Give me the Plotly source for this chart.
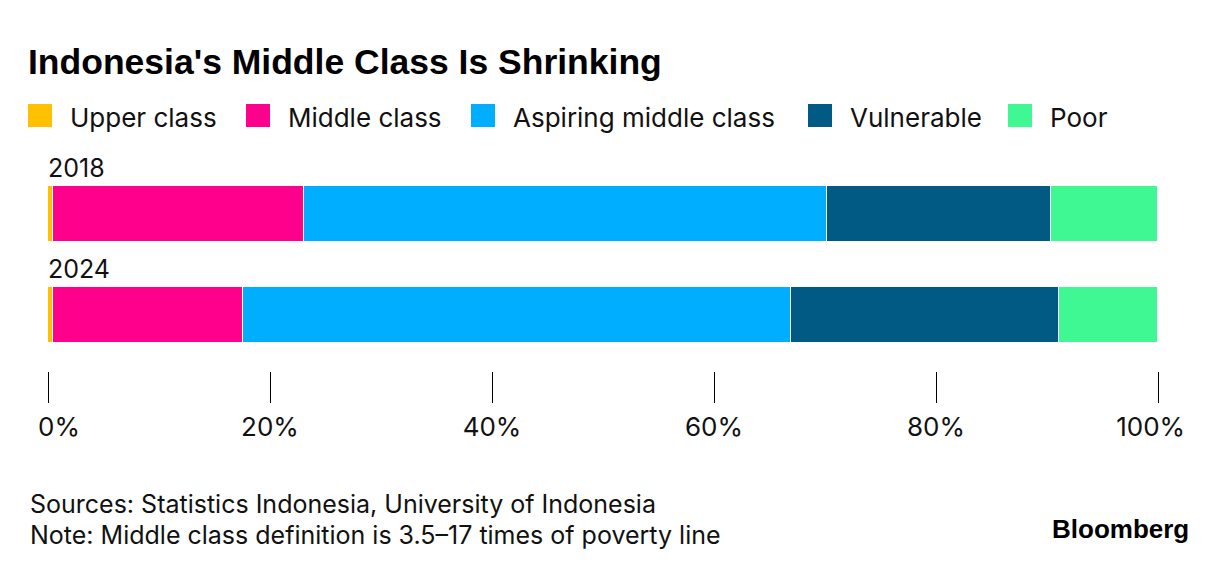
import plotly.graph_objects as go

# ---- data ----
years = ["2018", "2024"]
series_names = ["Upper class", "Middle class", "Aspiring middle class", "Vulnerable", "Poor"]
series_colors = ["#FFC000", "#FF008C", "#00AEFF", "#005A84", "#40F893"]
upper = [0.45, 0.45]
middle = [22.6, 17.1]
aspiring = [47.1, 49.4]
vulnerable = [20.2, 24.1]
poor = [9.65, 8.95]
tick_vals = [0, 20, 40, 60, 80, 100]
tick_text = ["\u00a0\u00a0\u00a00%", "20%", "40%", "60%", "80%", "100%\u00a0\u00a0"]

values = [upper, middle, aspiring, vulnerable, poor]

W, H = 1231, 574
L, R, T, B = 48, 1158, 186, 371  # plot area in px

def pxx(x):
    return (x - L) / (R - L)

def pxy(y):
    return (B - y) / (B - T)

FONT = "Inter"
BAR_W = 0.554

fig = go.Figure()
for name, col, vals in zip(series_names, series_colors, values):
    fig.add_trace(go.Bar(
        y=years, x=vals, name=name, orientation="h",
        marker=dict(color=col, line=dict(color="white", width=1)),
        width=BAR_W, showlegend=False,
        hovertemplate="%{y} " + name + ": %{x}%<extra></extra>",
    ))

annotations = []
shapes = []

# year labels above bars (anchored just inside the axis range, shifted up to bar top)
cat_order = ["2024", "2018"]
for i, yr in enumerate(cat_order):
    annotations.append(dict(
        x=0, y=i + 0.25, xref="paper", yref="y", text=yr, showarrow=False,
        xanchor="left", yanchor="bottom", yshift=4, xshift=-2,
        font=dict(family=FONT, size=25, color="#111"),
    ))

# legend (manual)
leg_x = [28, 246, 471, 808, 1008]
for x0, name, col in zip(leg_x, series_names, series_colors):
    shapes.append(dict(type="rect", xref="paper", yref="paper",
                       x0=pxx(x0), x1=pxx(x0 + 24), y0=pxy(127), y1=pxy(104),
                       fillcolor=col, line=dict(width=0)))
    annotations.append(dict(
        x=pxx(x0 + 40), y=pxy(117), xref="paper", yref="paper", text=name,
        showarrow=False, xanchor="left", yanchor="middle",
        font=dict(family=FONT, size=26, color="#111"),
    ))

# footer
annotations.append(dict(
    x=pxx(28), y=pxy(504), xref="paper", yref="paper",
    text="Sources: Statistics Indonesia, University of Indonesia",
    showarrow=False, xanchor="left", yanchor="middle",
    font=dict(family=FONT, size=25, color="#111"),
))
annotations.append(dict(
    x=pxx(28), y=pxy(535), xref="paper", yref="paper",
    text="Note: Middle class definition is 3.5\u201317 times of poverty line",
    showarrow=False, xanchor="left", yanchor="middle",
    font=dict(family=FONT, size=25, color="#111"),
))
annotations.append(dict(
    x=pxx(1191), y=pxy(529), xref="paper", yref="paper",
    text="<b>Bloomberg</b>",
    showarrow=False, xanchor="right", yanchor="middle",
    font=dict(family="Liberation Sans", size=26, color="#000"),
))

fig.update_layout(
    width=W, height=H,
    margin=dict(l=L, r=W - R, t=T, b=H - B, pad=0),
    paper_bgcolor="white", plot_bgcolor="white",
    barmode="stack", bargap=0,
    title=dict(text="<b>Indonesia's Middle Class Is Shrinking</b>",
               x=28 / W, xref="container", xanchor="left",
               y=1 - 62 / H, yref="container", yanchor="middle",
               font=dict(family="Liberation Sans", size=35.5, color="#000")),
    xaxis=dict(range=[0, 100], tickvals=tick_vals, ticktext=tick_text,
               ticks="outside", ticklen=31, tickwidth=1, tickcolor="#000",
               showgrid=False, zeroline=False, showline=False,
               ticklabelstandoff=2,
               tickfont=dict(family=FONT, size=26, color="#111"),
               fixedrange=True),
    yaxis=dict(categoryorder="array", categoryarray=cat_order,
               range=[-0.554, 1.277], showticklabels=False, showgrid=False,
               zeroline=False, showline=False, ticks="", fixedrange=True),
    annotations=annotations, shapes=shapes,
    showlegend=False,
)

fig.write_html("out.html",
               config={"displayModeBar": False},
               post_script="document.body.style.margin='0';document.body.style.padding='0';")
